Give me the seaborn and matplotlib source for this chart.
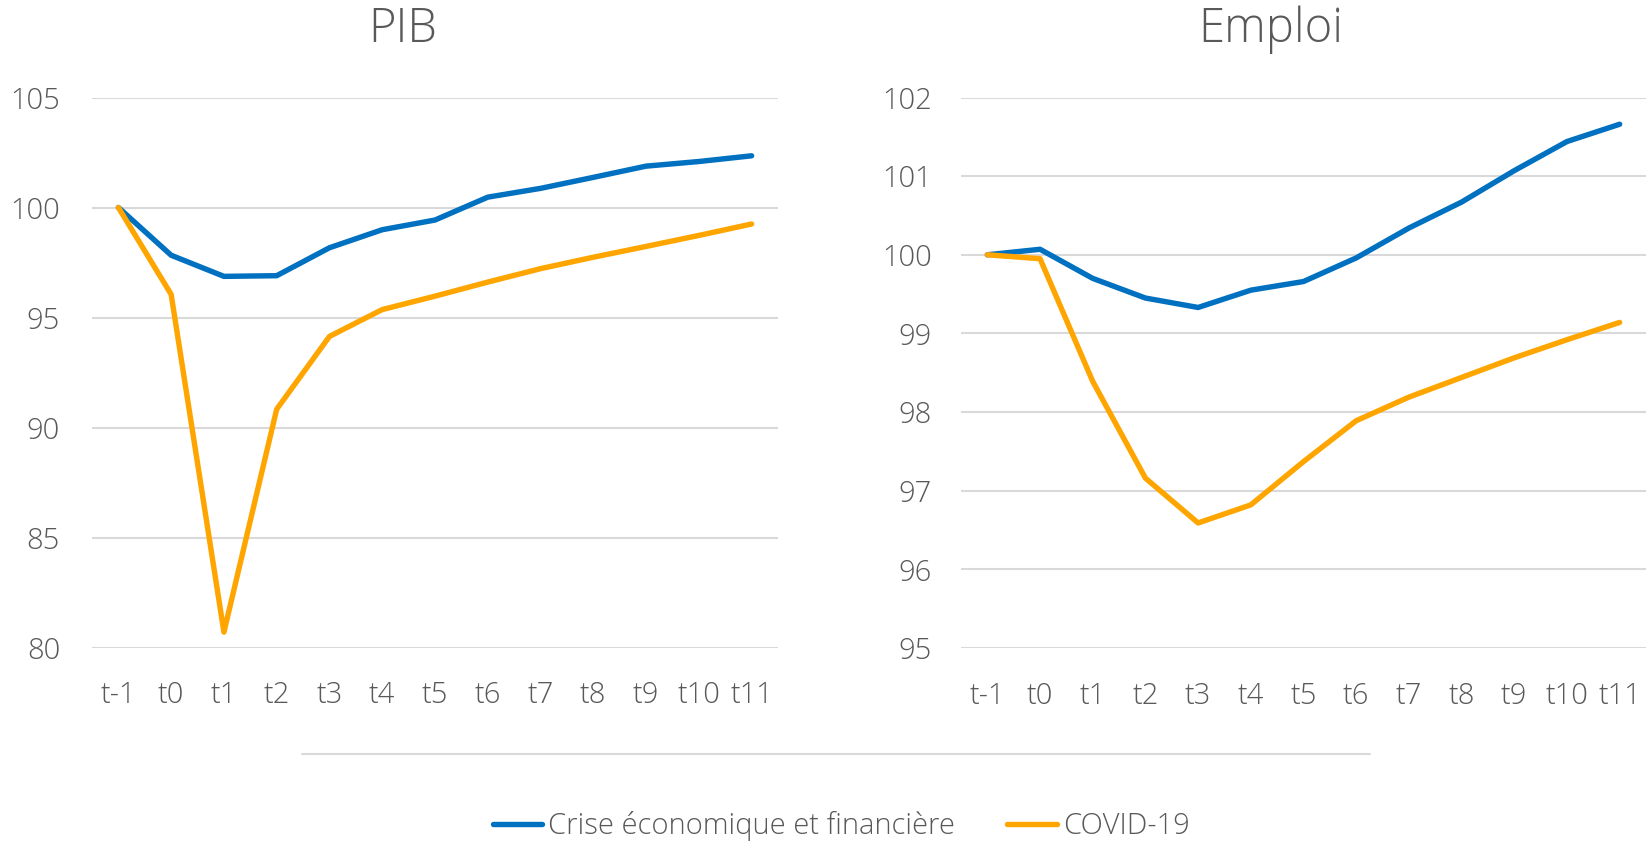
import numpy as np
import pandas as pd
import seaborn as sns
import matplotlib
matplotlib.use("Agg")
import matplotlib.pyplot as plt
from matplotlib.lines import Line2D

periods = ["t-1", "t0", "t1", "t2", "t3", "t4", "t5", "t6", "t7", "t8", "t9", "t10", "t11"]

pib_crise = [100, 97.83, 96.87, 96.9, 98.17, 98.99, 99.43, 100.47, 100.87, 101.37, 101.88, 102.09, 102.35]
pib_covid = [100, 96.05, 80.7, 90.83, 94.14, 95.36, 95.97, 96.61, 97.22, 97.74, 98.23, 98.73, 99.25]

emploi_crise = [100, 100.07, 99.7, 99.45, 99.33, 99.55, 99.66, 99.96, 100.34, 100.67, 101.07, 101.44, 101.66]
emploi_covid = [100, 99.95, 98.39, 97.16, 96.59, 96.82, 97.37, 97.89, 98.19, 98.44, 98.69, 98.92, 99.14]

series_names = ["Crise économique et financière", "COVID-19"]
colors = {"Crise économique et financière": "#0070C0", "COVID-19": "#FFA500"}

GRID = "#D9D9D9"
TEXT = "#595959"
FONT = "Open Sans"
LW = 3.9

sns.set_style("white")
plt.rcParams["font.family"] = [FONT, "DejaVu Sans"]
plt.rcParams["font.weight"] = "light"


def to_long(crise, covid):
    df = pd.DataFrame({"periode": periods * 2,
                       "valeur": crise + covid,
                       "serie": [series_names[0]] * len(periods) + [series_names[1]] * len(periods)})
    return df


W, H = 1646, 843
fig = plt.figure(figsize=(W / 100, H / 100), dpi=100)


def make_axes(x0, x1, y_top, y_bot):
    return fig.add_axes([x0 / W, 1 - y_bot / H, (x1 - x0) / W, (y_bot - y_top) / H])


def style_axes(ax, ylim, yticks, ypad, xpad):
    ax.set_ylim(*ylim)
    ax.set_yticks(yticks)
    ax.set_xlim(-0.5, len(periods) - 0.5)
    ax.grid(axis="y", color=GRID, linewidth=1.5)
    ax.set_axisbelow(True)
    for s in ax.spines.values():
        s.set_visible(False)
    ax.tick_params(axis="y", length=0, pad=ypad, labelsize=21, labelcolor=TEXT)
    ax.tick_params(axis="x", length=0, pad=xpad, labelsize=21, labelcolor=TEXT)
    ax.set_xlabel("")
    ax.set_ylabel("")
    leg = ax.get_legend()
    if leg is not None:
        leg.remove()


ax1 = make_axes(92, 778, 97.5, 647.5)
sns.lineplot(data=to_long(pib_crise, pib_covid), x="periode", y="valeur", hue="serie",
             palette=colors, linewidth=LW, sort=False, ax=ax1)
style_axes(ax1, (80, 105), [80, 85, 90, 95, 100, 105], 23, 24)

ax2 = make_axes(961, 1646, 97.5, 648)
sns.lineplot(data=to_long(emploi_crise, emploi_covid), x="periode", y="valeur", hue="serie",
             palette=colors, linewidth=LW, sort=False, ax=ax2)
style_axes(ax2, (95, 102), [95, 96, 97, 98, 99, 100, 101, 102], 21, 24)

for ax in (ax1, ax2):
    for ln in ax.get_lines():
        ln.set_solid_capstyle("round")
        ln.set_solid_joinstyle("round")

fig.text(403 / W, 1 - 30 / H, "PIB", ha="center", va="center", fontsize=34, color=TEXT)
fig.text(1271 / W, 1 - 30 / H, "Emploi", ha="center", va="center", fontsize=34, color=TEXT)

# separator above the legend
fig.add_artist(Line2D([302 / W, 1370 / W], [1 - 754 / H] * 2, transform=fig.transFigure,
                      color=GRID, linewidth=1.5))

handles = [Line2D([], [], color=colors[n], linewidth=LW, solid_capstyle="round") for n in series_names]
fig.legend(handles, series_names, loc="center", bbox_to_anchor=(841 / W, 1 - 826 / H), ncol=2,
           frameon=False, fontsize=21, labelcolor=TEXT, handlelength=1.7, handletextpad=0.2,
           columnspacing=1.8)

fig.savefig("out.png", dpi=100)
